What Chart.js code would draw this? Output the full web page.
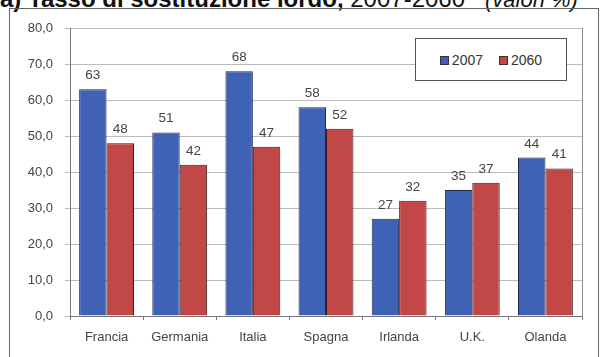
<!DOCTYPE html>
<html>
<head>
<meta charset="utf-8">
<script src="https://cdn.jsdelivr.net/npm/chart.js@4/dist/chart.umd.min.js"></script>
<style>
  body { margin: 0; background: #fff; font-family: "Liberation Sans", Arial, sans-serif; }
  #wrap { position: relative; width: 600px; height: 357px; overflow: hidden; }
  #title { position: absolute; left: 0px; top: -13px; font-size: 24px; line-height: 24px; color: #111; white-space: nowrap; }
  #frame { position: absolute; left: 9px; top: 8px; width: 588px; height: 360px; border: 1px solid #666; }
  #chart { position: absolute; left: 0; top: 0; }
  #legend { position: absolute; left: 415px; top: 38px; width: 150px; height: 41px; border: 1px solid #555; background: #fff;
            display: flex; align-items: center; justify-content: center; gap: 16px; font-size: 14px; color: #333; }
  #legend span.sw { display: inline-block; width: 7px; height: 7px; margin-right: 3px; border: 1px solid #333; vertical-align: 0px; }
</style>
</head>
<body>
<div id="wrap">
  <div id="title"><b>a) Tasso di sostituzione lordo,</b> 2007-2060 &nbsp; <i style="font-size:22px">(valori %)</i></div>
  <div id="frame"></div>
  <canvas id="chart" width="600" height="357"></canvas>
  <div id="legend"></div>
</div>
<script>
// Data
const categories = ['Francia', 'Germania', 'Italia', 'Spagna', 'Irlanda', 'U.K.', 'Olanda'];
const seriesNames = ['2007', '2060'];
const values2007 = [63, 51, 68, 58, 27, 35, 44];
const values2060 = [48, 42, 47, 52, 32, 37, 41];
const yTicks = [0, 10, 20, 30, 40, 50, 60, 70, 80];

const colors = ['#3f62b4', '#c24848'];
const font = '"Liberation Sans", Arial, sans-serif';

// Legend (boxed, inside plot)
const legendEl = document.getElementById('legend');
legendEl.innerHTML = seriesNames.map((n, i) =>
  `<div><span class="sw" style="background:${colors[i]}"></span>${n}</div>`).join('');

// value labels above bars
const valueLabels = {
  id: 'valueLabels',
  afterDatasetsDraw(chart) {
    const ctx = chart.ctx;
    ctx.save();
    ctx.font = '13.5px ' + font;
    ctx.fillStyle = '#444';
    ctx.textAlign = 'center';
    ctx.textBaseline = 'bottom';
    chart.data.datasets.forEach((ds, i) => {
      chart.getDatasetMeta(i).data.forEach((bar, j) => {
        ctx.fillText(ds.data[j], bar.x, bar.y - 7);
      });
    });
    ctx.restore();
  }
};

// right border of plot area
const plotBorder = {
  id: 'plotBorder',
  beforeDatasetsDraw(chart) {
    const { ctx, chartArea: a } = chart;
    ctx.save();
    ctx.strokeStyle = '#888';
    ctx.lineWidth = 1;
    ctx.beginPath();
    ctx.moveTo(a.right + 0.5, a.top);
    ctx.lineTo(a.right + 0.5, a.bottom);
    ctx.stroke();
    ctx.restore();
  }
};

new Chart(document.getElementById('chart'), {
  type: 'bar',
  data: {
    labels: categories,
    datasets: [
      { label: seriesNames[0], data: values2007, backgroundColor: colors[0], borderColor: '#1d2a4a', borderWidth: 1 },
      { label: seriesNames[1], data: values2060, backgroundColor: colors[1], borderColor: '#3a1a1a', borderWidth: 1 }
    ]
  },
  options: {
    responsive: false,
    animation: false,
    categoryPercentage: 0.75,
    barPercentage: 1,
    layout: { padding: { top: 28, right: 18, left: 0, bottom: 0 } },
    plugins: { legend: { display: false }, tooltip: { enabled: false } },
    scales: {
      x: {
        afterFit: s => { s.height = 41; },
        grid: { offset: true, drawOnChartArea: false, tickLength: 4, color: '#777' },
        border: { color: '#777' },
        ticks: { color: '#444', font: { size: 13, family: font }, padding: 10 }
      },
      y: {
        min: 0, max: 80,
        afterFit: s => { s.width = 70; },
        afterBuildTicks: s => { s.ticks = yTicks.map(v => ({ value: v })); },
        grid: { color: '#bbb', tickLength: 5 },
        border: { color: '#777' },
        ticks: {
          color: '#444',
          font: { size: 13, family: font },
          padding: 12,
          callback: v => v.toFixed(1).replace('.', ',')
        }
      }
    }
  },
  plugins: [valueLabels, plotBorder]
});
</script>
</body>
</html>
